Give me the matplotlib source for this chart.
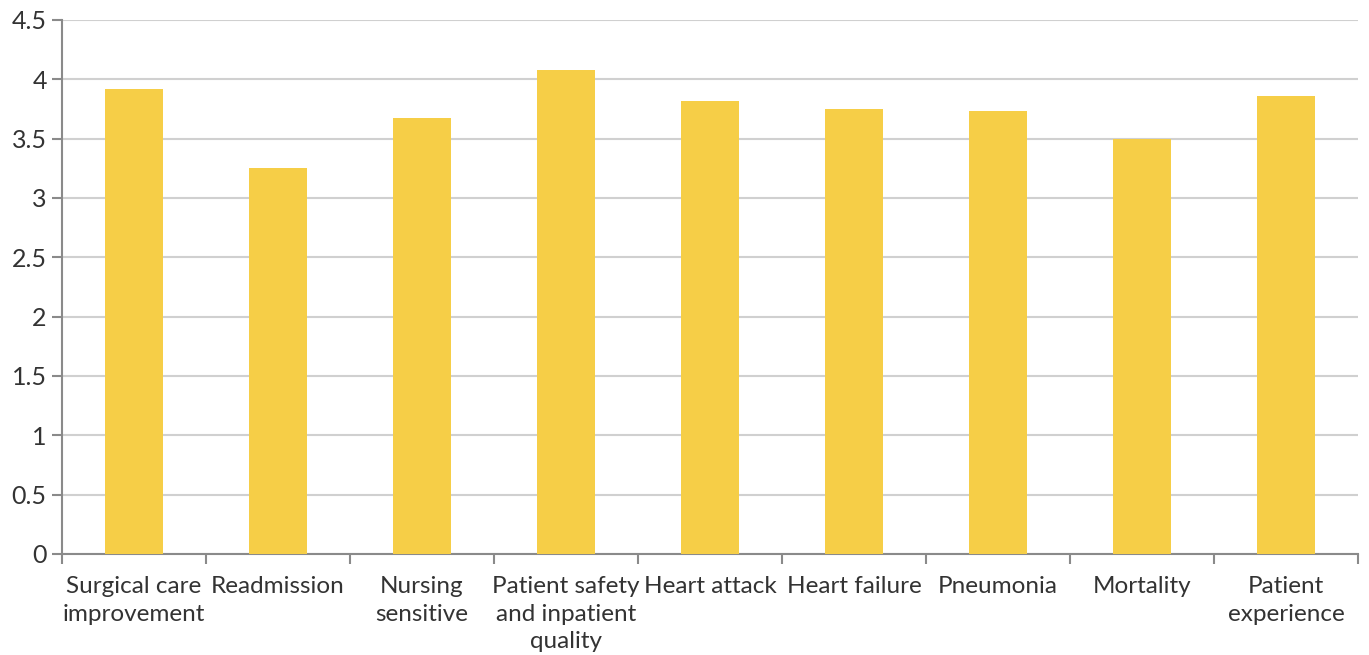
import numpy as np
import matplotlib.pyplot as plt

categories = ["Surgical care\nimprovement", "Readmission", "Nursing\nsensitive",
              "Patient safety\nand inpatient\nquality", "Heart attack", "Heart failure",
              "Pneumonia", "Mortality", "Patient\nexperience"]
values = [3.92, 3.25, 3.67, 4.08, 3.82, 3.75, 3.73, 3.50, 3.86]
yticks = [0, 0.5, 1, 1.5, 2, 2.5, 3, 3.5, 4, 4.5]
ytick_labels = ["0", "0.5", "1", "1.5", "2", "2.5", "3", "3.5", "4", "4.5"]

plt.rcParams['font.family'] = ['Lato', 'DejaVu Sans']

fig = plt.figure(figsize=(13.69, 6.55), dpi=100)
ax = fig.add_axes([0.0453, 0.1542, 0.9467, 0.8153])

x = np.arange(len(categories))
ax.bar(x, values, width=0.4, color='#F6CE47', zorder=3)

ax.set_xlim(-0.5, len(categories) - 0.5)
ax.set_ylim(0, 4.5)
ax.set_yticks(yticks)
ax.set_yticklabels(ytick_labels)
ax.yaxis.grid(True, color='#d0d0d0', linewidth=1.5, zorder=0)

ax.set_xticks(x)
ax.set_xticklabels(categories, fontsize=17.5, color='#333333', linespacing=1.39)
ax.tick_params(axis='x', which='major', length=0, pad=16)
ax.set_xticks(np.arange(len(categories) + 1) - 0.5, minor=True)
ax.tick_params(axis='x', which='minor', length=7, width=1.5, color='#8a8a8a')
ax.tick_params(axis='y', length=7, width=1.5, color='#8a8a8a', labelsize=18,
               labelcolor='#333333', pad=4)

for side in ['top', 'right']:
    ax.spines[side].set_visible(False)
for side in ['left', 'bottom']:
    ax.spines[side].set_color('#8a8a8a')
    ax.spines[side].set_linewidth(1.5)

fig.savefig('out.png', dpi=100)
